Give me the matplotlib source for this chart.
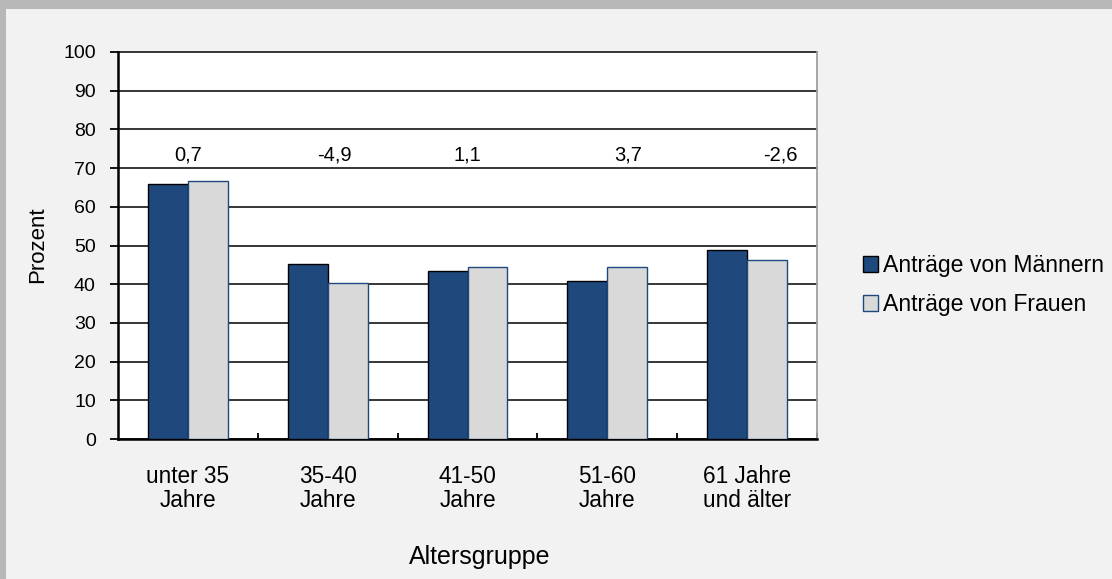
import matplotlib
matplotlib.use("Agg")
import matplotlib.pyplot as plt
from matplotlib.patches import Rectangle, Patch
from matplotlib.ticker import MultipleLocator, FixedLocator
import numpy as np

# Age groups and application shares (percent)
categories = ["unter 35\nJahre", "35-40\nJahre", "41-50\nJahre", "51-60\nJahre", "61 Jahre\nund älter"]
men = [66.0, 45.3, 43.3, 40.7, 48.9]
women = [66.7, 40.4, 44.4, 44.4, 46.3]
series_names = ["Anträge von Männern", "Anträge von Frauen"]

# horizontal placement of the difference labels (category units)
diff_label_x = [0.0, 1.05, 2.0, 3.15, 4.24]
diff_label_y = 73.5

plt.rcParams["font.family"] = ["Liberation Sans", "DejaVu Sans"]

W, H = 1112, 579
fig = plt.figure(figsize=(W / 100, H / 100), dpi=100, facecolor="#B8B8B8")
fig.patches.append(Rectangle((6 / W, 0), 1, (H - 9) / H, transform=fig.transFigure,
                             facecolor="#F2F2F2", edgecolor="none", zorder=-10))

ax = fig.add_axes([118 / W, 1 - 439 / H, (817 - 118) / W, (439 - 52) / H])
ax.set_zorder(1)
ax.set_facecolor("white")

x = np.arange(len(categories))
bw = 0.286
ax.bar(x - bw / 2, men, bw, color="#1F497D", edgecolor="black", linewidth=1.0, zorder=3)
ax.bar(x + bw / 2, women, bw, color="#D9D9D9", edgecolor="#1F497D", linewidth=1.0, zorder=3)

for xi, m, w in zip(diff_label_x, men, women):
    d = round(w - m, 1)
    ax.text(xi, diff_label_y, f"{d:.1f}".replace(".", ","), ha="center", va="center",
            fontsize=14.5, color="black", zorder=4)

ax.set_xlim(-0.5, len(categories) - 0.5)
ax.set_ylim(0, 100)
ax.yaxis.set_major_locator(MultipleLocator(10))
ax.yaxis.grid(True, color="black", linewidth=1.1, zorder=1)
ax.set_axisbelow(True)
for gl in ax.get_ygridlines():
    gl.set_clip_on(False)

ax.set_xticks(x)
ax.set_xticklabels(categories, fontsize=16.3, linespacing=1.05)
ax.tick_params(axis="x", which="major", length=0, pad=19)
ax.xaxis.set_minor_locator(FixedLocator(np.arange(0.5, len(categories), 1.0)))
ax.tick_params(axis="x", which="minor", direction="in", length=4.5, width=1.3, color="black")
ax.tick_params(axis="y", direction="out", length=6, width=1.3, labelsize=14, pad=10)

ax.spines["top"].set_visible(False)
ax.spines["right"].set_color("#A0A0A0")
ax.spines["right"].set_linewidth(1.3)
ax.spines["left"].set_linewidth(1.8)
ax.spines["bottom"].set_linewidth(1.8)

fig.text(38 / W, 1 - 245 / H, "Prozent", rotation=90, ha="center", va="center", fontsize=16)
fig.text(480 / W, 1 - 557 / H, "Altersgruppe", ha="center", va="center", fontsize=18)

handles = [Patch(facecolor="#1F497D", edgecolor="black", linewidth=1.0),
           Patch(facecolor="#D9D9D9", edgecolor="#1F497D", linewidth=1.0)]
fig.legend(handles, series_names, loc="center left", bbox_to_anchor=(863 / W, 1 - 285 / H),
           frameon=False, fontsize=16.6, handlelength=0.66, handleheight=0.66,
           handletextpad=0.2, labelspacing=0.68, borderaxespad=0, borderpad=0)

fig.savefig("out.png", dpi=100, facecolor=fig.get_facecolor())
